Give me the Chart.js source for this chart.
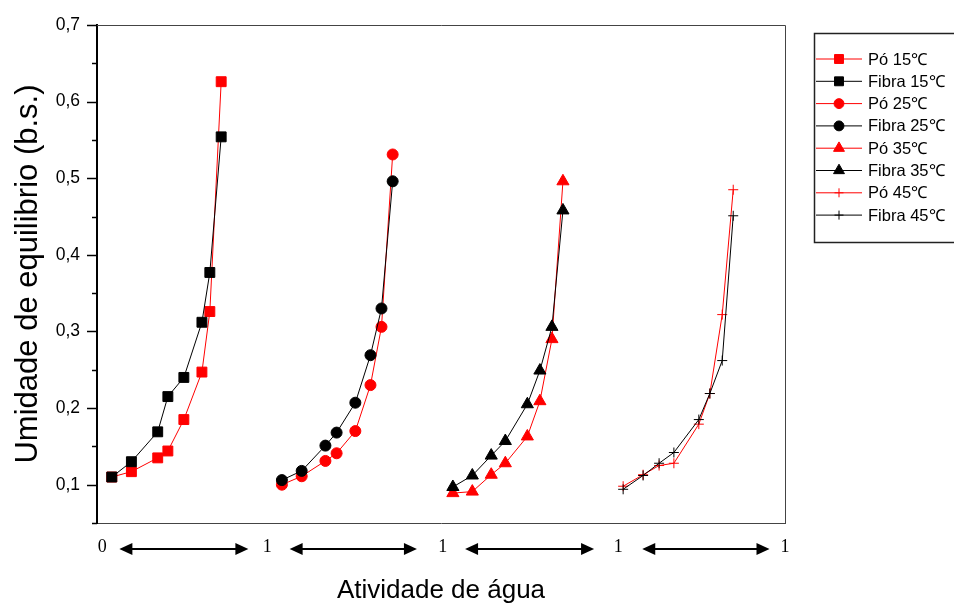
<!DOCTYPE html>
<html>
<head>
<meta charset="utf-8">
<script src="https://cdn.jsdelivr.net/npm/chart.js@4.4.1/dist/chart.umd.min.js"></script>
<style>
  html, body { margin: 0; padding: 0; background: #fff; }
  canvas { display: block; }
</style>
</head>
<body>
<canvas id="isoChart" width="954" height="603"></canvas>
<script>
// water activity of each sample at each temperature (inside its own panel)
const aw15 = [0.086, 0.200, 0.353, 0.412, 0.505, 0.610, 0.656, 0.722];
const aw25 = [0.075, 0.190, 0.328, 0.393, 0.502, 0.590, 0.654, 0.719];
const aw35 = [0.069, 0.182, 0.292, 0.374, 0.502, 0.575, 0.645, 0.709];
const aw45 = [0.059, 0.175, 0.268, 0.354, 0.499, 0.563, 0.635, 0.699];

// equilibrium moisture (dry basis)
const po15    = [0.110, 0.117, 0.135, 0.144, 0.185, 0.247, 0.326, 0.626];
const fibra15 = [0.110, 0.130, 0.169, 0.215, 0.240, 0.312, 0.377, 0.554];
const po25    = [0.100, 0.111, 0.131, 0.141, 0.170, 0.230, 0.306, 0.531];
const fibra25 = [0.106, 0.118, 0.151, 0.168, 0.207, 0.269, 0.330, 0.496];
const po35    = [0.089, 0.091, 0.113, 0.128, 0.163, 0.209, 0.290, 0.496];
const fibra35 = [0.097, 0.112, 0.138, 0.157, 0.205, 0.249, 0.306, 0.458];
const po45    = [0.098, 0.113, 0.125, 0.128, 0.179, 0.219, 0.322, 0.485];
const fibra45 = [0.094, 0.112, 0.128, 0.142, 0.185, 0.219, 0.262, 0.451];

// each temperature sits in its own 0..1 panel along the x axis
const panels = [0, 1, 2, 3];
const xLabels = ['0', '1', '1', '1', '1'];
const xLabelPos = [0.03, 0.99, 2.01, 3.03, 4.0];
const arrowSpans = [[0.13, 0.88], [1.12, 1.86], [2.14, 2.89], [3.17, 3.91]];
const yTicks = [0.1, 0.2, 0.3, 0.4, 0.5, 0.6, 0.7];

function pts(aw, vals, panel) {
    return aw.map((a, i) => ({ x: a + panel, y: vals[i] }));
}

function series(label, data, color, style, radius, order) {
    return {
        label: label,
        data: data,
        showLine: true,
        borderColor: color,
        backgroundColor: color,
        borderWidth: 1,
        pointStyle: style,
        pointRadius: radius,
        pointBorderWidth: 1,
        pointHoverRadius: radius,
        order: order
    };
}

const RED = '#ff0000';
const BLACK = '#000000';

const datasets = [
    series('Pó 15℃', pts(aw15, po15, panels[0]), RED, 'rect', 7, 2),
    series('Fibra 15℃', pts(aw15, fibra15, panels[0]), BLACK, 'rect', 7, 1),
    series('Pó 25℃', pts(aw25, po25, panels[1]), RED, 'circle', 5.5, 2),
    series('Fibra 25℃', pts(aw25, fibra25, panels[1]), BLACK, 'circle', 5.5, 1),
    series('Pó 35℃', pts(aw35, po35, panels[2]), RED, 'triangle', 7, 2),
    series('Fibra 35℃', pts(aw35, fibra35, panels[2]), BLACK, 'triangle', 7, 1),
    series('Pó 45℃', pts(aw45, po45, panels[3]), RED, 'cross', 5, 2),
    series('Fibra 45℃', pts(aw45, fibra45, panels[3]), BLACK, 'cross', 5, 1)
];

// top/right frame lines and the y tick marks
const framePlugin = {
    id: 'frame',
    beforeDatasetsDraw(chart) {
        const { ctx, chartArea: a, scales: { y } } = chart;
        ctx.save();
        ctx.strokeStyle = '#444';
        ctx.lineWidth = 1;
        ctx.beginPath();
        ctx.moveTo(a.left, a.top + 0.5);
        ctx.lineTo(a.right + 0.5, a.top + 0.5);
        ctx.lineTo(a.right + 0.5, a.bottom);
        ctx.stroke();

        ctx.strokeStyle = '#000';
        ctx.lineWidth = 1.5;
        for (let v = 0.05; v <= 0.7001; v += 0.05) {
            const py = Math.round(y.getPixelForValue(v)) + 0.5;
            const major = yTicks.some(t => Math.abs(t - v) < 1e-6);
            const len = major ? 10 : 5;
            ctx.beginPath();
            ctx.moveTo(a.left - len, py);
            ctx.lineTo(a.left, py);
            ctx.stroke();
        }
        ctx.restore();
    }
};

// panel labels and double-headed arrows under the x axis
const arrowPlugin = {
    id: 'arrows',
    afterDraw(chart) {
        const { ctx, chartArea: a, scales: { x } } = chart;
        const py = a.bottom + 26;
        const head = 13, half = 6;
        ctx.save();
        ctx.fillStyle = '#000';
        ctx.font = '18px "Liberation Serif", "Times New Roman", serif';
        ctx.textAlign = 'center';
        ctx.textBaseline = 'middle';
        xLabels.forEach((t, i) => ctx.fillText(t, x.getPixelForValue(xLabelPos[i]), py - 2));

        ctx.strokeStyle = '#000';
        ctx.lineWidth = 2;
        arrowSpans.forEach(([s, e]) => {
            const x1 = x.getPixelForValue(s);
            const x2 = x.getPixelForValue(e);
            ctx.beginPath();
            ctx.moveTo(x1 + head - 2, py);
            ctx.lineTo(x2 - head + 2, py);
            ctx.stroke();
            ctx.beginPath();
            ctx.moveTo(x1, py);
            ctx.lineTo(x1 + head, py - half);
            ctx.lineTo(x1 + head, py + half);
            ctx.closePath();
            ctx.fill();
            ctx.beginPath();
            ctx.moveTo(x2, py);
            ctx.lineTo(x2 - head, py - half);
            ctx.lineTo(x2 - head, py + half);
            ctx.closePath();
            ctx.fill();
        });
        ctx.restore();
    }
};

// boxed legend to the right of the plot
const boxLegend = {
    id: 'boxLegend',
    afterDraw(chart) {
        const { ctx, chartArea: a } = chart;
        const left = a.right + 29;
        const top = 33;
        ctx.save();
        ctx.strokeStyle = '#222';
        ctx.lineWidth = 1.5;
        ctx.strokeRect(left + 0.5, top + 0.5, 200, 209);
        ctx.font = '16.5px "Liberation Sans", Arial, sans-serif';
        ctx.textBaseline = 'middle';
        chart.data.datasets.forEach((ds, i) => {
            const py = top + 26 + i * 22.3;
            ctx.strokeStyle = ds.borderColor;
            ctx.fillStyle = ds.backgroundColor;
            ctx.lineWidth = 1;
            ctx.beginPath();
            ctx.moveTo(left + 2, py);
            ctx.lineTo(left + 48, py);
            ctx.stroke();
            Chart.helpers.drawPoint(ctx, {
                pointStyle: ds.pointStyle,
                radius: ds.pointRadius * 0.9,
                borderWidth: 1,
                rotation: 0
            }, left + 25, py);
            ctx.fillStyle = '#000';
            ctx.fillText(ds.label, left + 54, py + 1);
        });
        ctx.restore();
    }
};

new Chart(document.getElementById('isoChart'), {
    type: 'scatter',
    data: { datasets: datasets },
    options: {
        responsive: false,
        animation: false,
        devicePixelRatio: 1,
        layout: { padding: { left: 0, right: 169, top: 25, bottom: 0 } },
        plugins: {
            legend: { display: false },
            tooltip: { enabled: false }
        },
        scales: {
            x: {
                type: 'linear',
                min: 0,
                max: 4,
                afterFit(scale) { scale.height = 80; },
                grid: { display: false, drawTicks: false },
                border: { display: true, color: '#444', width: 1 },
                ticks: { display: false },
                title: {
                    display: true,
                    text: 'Atividade de água',
                    color: '#000',
                    font: { family: '"Liberation Sans", Arial, sans-serif', size: 26 },
                    padding: { top: 0, bottom: -3 }
                }
            },
            y: {
                min: 0.05,
                max: 0.7,
                afterFit(scale) {
                    scale.width = 97;
                    scale.paddingTop = 0;
                    scale.paddingBottom = 0;
                },
                grid: { display: false, drawTicks: false },
                border: { display: true, color: '#000', width: 2 },
                ticks: {
                    padding: 17,
                    color: '#000',
                    font: { family: '"Liberation Sans", Arial, sans-serif', size: 17.5 },
                    callback: (v) => v.toFixed(1).replace('.', ',')
                },
                afterBuildTicks(scale) {
                    scale.ticks = yTicks.map(v => ({ value: v }));
                },
                title: {
                    display: true,
                    text: 'Umidade de equilibrio (b.s.)',
                    color: '#000',
                    font: { family: '"Liberation Sans", Arial, sans-serif', size: 31 },
                    padding: { top: 10, bottom: 0 }
                }
            }
        }
    },
    plugins: [framePlugin, arrowPlugin, boxLegend]
});
</script>
</body>
</html>
